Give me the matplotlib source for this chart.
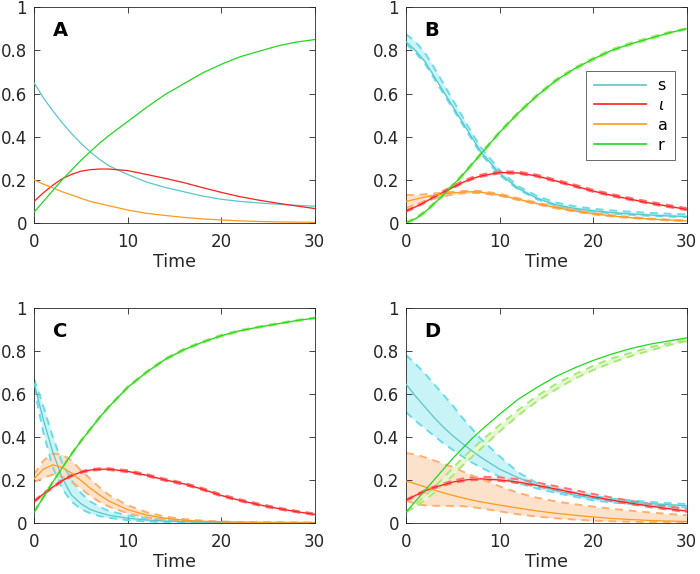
import matplotlib
matplotlib.use('Agg')
import matplotlib.pyplot as plt

# === DATA ===
t = [0, 1, 2, 3, 4, 5, 6, 7, 8, 10, 12, 14, 16, 18, 20, 22, 24, 26, 28, 30]

# Panel A (no bands)
s_A = [0.65, 0.58, 0.52, 0.465, 0.415, 0.37, 0.33, 0.295, 0.265, 0.225, 0.19, 0.165, 0.145, 0.125, 0.11, 0.1, 0.093, 0.087, 0.082, 0.078]
i_A = [0.1, 0.14, 0.175, 0.205, 0.225, 0.24, 0.247, 0.25, 0.25, 0.243, 0.225, 0.207, 0.187, 0.164, 0.142, 0.122, 0.106, 0.092, 0.079, 0.067]
a_A = [0.2, 0.18, 0.163, 0.145, 0.13, 0.115, 0.1, 0.09, 0.08, 0.06, 0.045, 0.035, 0.026, 0.019, 0.014, 0.01, 0.007, 0.005, 0.004, 0.003]
r_A = [0.05, 0.1, 0.15, 0.2, 0.245, 0.29, 0.33, 0.37, 0.405, 0.47, 0.535, 0.595, 0.645, 0.695, 0.735, 0.77, 0.795, 0.82, 0.838, 0.85]

# Panel B
s_B = [0.84, 0.8, 0.75, 0.68, 0.61, 0.54, 0.47, 0.4, 0.33, 0.23, 0.16, 0.115, 0.085, 0.068, 0.057, 0.048, 0.042, 0.037, 0.033, 0.03]
s_B_hi = [0.875, 0.84, 0.79, 0.72, 0.645, 0.57, 0.495, 0.42, 0.35, 0.245, 0.17, 0.125, 0.095, 0.078, 0.066, 0.058, 0.052, 0.047, 0.043, 0.04]
s_B_lo = [0.83, 0.79, 0.74, 0.67, 0.6, 0.53, 0.46, 0.39, 0.32, 0.222, 0.155, 0.11, 0.08, 0.063, 0.052, 0.044, 0.038, 0.033, 0.03, 0.027]
i_B = [0.055, 0.075, 0.097, 0.12, 0.143, 0.165, 0.187, 0.205, 0.218, 0.234, 0.232, 0.218, 0.195, 0.172, 0.148, 0.128, 0.11, 0.093, 0.078, 0.063]
i_B_hi = [0.058, 0.079, 0.102, 0.125, 0.149, 0.171, 0.193, 0.211, 0.224, 0.24, 0.238, 0.224, 0.201, 0.178, 0.154, 0.134, 0.116, 0.099, 0.084, 0.069]
i_B_lo = [0.052, 0.071, 0.093, 0.116, 0.139, 0.161, 0.183, 0.201, 0.214, 0.23, 0.228, 0.214, 0.191, 0.168, 0.144, 0.124, 0.106, 0.089, 0.074, 0.059]
a_B = [0.1, 0.11, 0.12, 0.128, 0.135, 0.14, 0.143, 0.145, 0.143, 0.13, 0.11, 0.09, 0.072, 0.056, 0.043, 0.033, 0.025, 0.019, 0.014, 0.01]
a_B_hi = [0.13, 0.13, 0.133, 0.137, 0.141, 0.145, 0.148, 0.15, 0.148, 0.135, 0.115, 0.094, 0.076, 0.06, 0.047, 0.036, 0.028, 0.021, 0.016, 0.012]
a_B_lo = [0.07, 0.085, 0.1, 0.113, 0.124, 0.132, 0.137, 0.14, 0.138, 0.126, 0.106, 0.086, 0.068, 0.053, 0.04, 0.03, 0.023, 0.017, 0.012, 0.008]
r_B = [0.0, 0.02, 0.05, 0.09, 0.13, 0.175, 0.22, 0.27, 0.32, 0.42, 0.51, 0.59, 0.66, 0.715, 0.76, 0.8, 0.83, 0.855, 0.88, 0.9]
r_B_hi = [0.004, 0.025, 0.055, 0.095, 0.135, 0.18, 0.225, 0.275, 0.325, 0.425, 0.515, 0.595, 0.665, 0.72, 0.765, 0.805, 0.835, 0.86, 0.884, 0.903]
r_B_lo = [0.0, 0.015, 0.045, 0.085, 0.125, 0.17, 0.215, 0.265, 0.315, 0.415, 0.505, 0.585, 0.655, 0.71, 0.755, 0.795, 0.825, 0.85, 0.876, 0.897]

# Panel C
s_C = [0.65, 0.48, 0.33, 0.21, 0.13, 0.09, 0.063, 0.048, 0.036, 0.022, 0.014, 0.009, 0.006, 0.004, 0.003, 0.002, 0.002, 0.002, 0.002, 0.002]
s_C_hi = [0.67, 0.54, 0.4, 0.28, 0.2, 0.14, 0.1, 0.075, 0.056, 0.035, 0.022, 0.014, 0.01, 0.007, 0.005, 0.004, 0.003, 0.003, 0.002, 0.002]
s_C_lo = [0.63, 0.42, 0.26, 0.16, 0.1, 0.065, 0.045, 0.032, 0.024, 0.013, 0.007, 0.004, 0.003, 0.002, 0.001, 0.001, 0.001, 0.001, 0.001, 0.001]
i_C = [0.1, 0.135, 0.167, 0.196, 0.22, 0.236, 0.246, 0.25, 0.25, 0.24, 0.222, 0.2, 0.182, 0.157, 0.128, 0.105, 0.085, 0.068, 0.053, 0.04]
i_C_hi = [0.103, 0.139, 0.171, 0.2, 0.224, 0.24, 0.25, 0.254, 0.254, 0.245, 0.227, 0.205, 0.187, 0.162, 0.133, 0.11, 0.09, 0.072, 0.057, 0.044]
i_C_lo = [0.097, 0.131, 0.163, 0.192, 0.216, 0.232, 0.242, 0.246, 0.246, 0.236, 0.218, 0.196, 0.178, 0.153, 0.124, 0.101, 0.081, 0.064, 0.05, 0.037]
a_C = [0.205, 0.25, 0.27, 0.258, 0.232, 0.198, 0.162, 0.13, 0.102, 0.062, 0.037, 0.022, 0.013, 0.008, 0.005, 0.003, 0.002, 0.001, 0.001, 0.001]
a_C_hi = [0.225, 0.29, 0.322, 0.318, 0.29, 0.245, 0.205, 0.165, 0.13, 0.082, 0.05, 0.03, 0.018, 0.011, 0.007, 0.004, 0.003, 0.002, 0.001, 0.001]
a_C_lo = [0.19, 0.21, 0.225, 0.215, 0.19, 0.16, 0.125, 0.098, 0.076, 0.045, 0.026, 0.015, 0.009, 0.005, 0.003, 0.002, 0.001, 0.001, 0.0, 0.0]
r_C = [0.05, 0.12, 0.19, 0.255, 0.32, 0.38, 0.435, 0.49, 0.54, 0.63, 0.7, 0.76, 0.805, 0.84, 0.87, 0.893, 0.91, 0.925, 0.94, 0.952]
r_C_hi = [0.053, 0.124, 0.194, 0.259, 0.324, 0.384, 0.439, 0.494, 0.544, 0.634, 0.704, 0.764, 0.809, 0.844, 0.874, 0.896, 0.913, 0.928, 0.943, 0.955]
r_C_lo = [0.047, 0.116, 0.186, 0.251, 0.316, 0.376, 0.431, 0.486, 0.536, 0.626, 0.696, 0.756, 0.801, 0.836, 0.866, 0.89, 0.907, 0.922, 0.937, 0.949]

# Panel D
s_D = [0.645, 0.59, 0.54, 0.49, 0.445, 0.405, 0.37, 0.337, 0.305, 0.25, 0.21, 0.175, 0.15, 0.13, 0.115, 0.105, 0.097, 0.09, 0.085, 0.08]
s_D_hi = [0.78, 0.74, 0.695, 0.645, 0.595, 0.545, 0.49, 0.44, 0.39, 0.31, 0.235, 0.185, 0.16, 0.14, 0.125, 0.113, 0.105, 0.098, 0.092, 0.088]
s_D_lo = [0.515, 0.475, 0.44, 0.405, 0.37, 0.34, 0.31, 0.282, 0.258, 0.215, 0.185, 0.16, 0.14, 0.122, 0.105, 0.095, 0.088, 0.082, 0.077, 0.072]
i_D = [0.105, 0.128, 0.148, 0.165, 0.178, 0.19, 0.198, 0.203, 0.205, 0.2, 0.19, 0.175, 0.158, 0.14, 0.122, 0.106, 0.092, 0.079, 0.067, 0.055]
i_D_hi = [0.108, 0.131, 0.152, 0.17, 0.184, 0.197, 0.206, 0.212, 0.215, 0.212, 0.203, 0.188, 0.171, 0.153, 0.135, 0.118, 0.103, 0.089, 0.077, 0.065]
i_D_lo = [0.102, 0.124, 0.144, 0.16, 0.173, 0.185, 0.193, 0.198, 0.2, 0.195, 0.185, 0.17, 0.153, 0.135, 0.117, 0.101, 0.087, 0.074, 0.062, 0.05]
a_D = [0.195, 0.182, 0.168, 0.153, 0.14, 0.128, 0.117, 0.107, 0.098, 0.083, 0.069, 0.056, 0.045, 0.036, 0.028, 0.021, 0.016, 0.012, 0.009, 0.007]
a_D_hi = [0.325, 0.318, 0.305, 0.29, 0.275, 0.26, 0.24, 0.222, 0.205, 0.17, 0.14, 0.117, 0.1, 0.087, 0.076, 0.066, 0.057, 0.049, 0.042, 0.036]
a_D_lo = [0.105, 0.088, 0.082, 0.08, 0.08, 0.079, 0.078, 0.074, 0.068, 0.054, 0.04, 0.03, 0.022, 0.016, 0.011, 0.008, 0.006, 0.004, 0.003, 0.002]
r_D = [0.05, 0.1, 0.15, 0.2, 0.25, 0.3, 0.345, 0.39, 0.43, 0.505, 0.575, 0.63, 0.68, 0.72, 0.755, 0.785, 0.81, 0.83, 0.845, 0.86]
r_D_hi = [0.05, 0.085, 0.125, 0.165, 0.21, 0.255, 0.3, 0.34, 0.38, 0.455, 0.525, 0.59, 0.645, 0.69, 0.73, 0.765, 0.79, 0.815, 0.835, 0.853]
r_D_lo = [0.05, 0.075, 0.105, 0.14, 0.18, 0.22, 0.265, 0.305, 0.345, 0.425, 0.5, 0.565, 0.62, 0.67, 0.71, 0.745, 0.775, 0.8, 0.825, 0.845]

labels = ['s', r'$\iota$', 'a', 'r']
panel_letters = ['A', 'B', 'C', 'D']

# === STYLE ===
LINE_COLORS = ['#5cc6c6', '#ff1f1f', '#ff9a1a', '#1fd81f']
DASH_COLORS = ['#66dde8', '#ff7070', '#ffb070', '#a8e878']
FILL_COLORS = ['#c8f3f7', '#ffd6d6', '#fde2cb', '#e4f9cf']
TEXT_COLOR = '#262626'

panels = [
    ([s_A, i_A, a_A, r_A], None),
    ([s_B, i_B, a_B, r_B], [(s_B_lo, s_B_hi), (i_B_lo, i_B_hi), (a_B_lo, a_B_hi), (r_B_lo, r_B_hi)]),
    ([s_C, i_C, a_C, r_C], [(s_C_lo, s_C_hi), (i_C_lo, i_C_hi), (a_C_lo, a_C_hi), (r_C_lo, r_C_hi)]),
    ([s_D, i_D, a_D, r_D], [(s_D_lo, s_D_hi), (i_D_lo, i_D_hi), (a_D_lo, a_D_hi), (r_D_lo, r_D_hi)]),
]

# axes boxes in figure fractions [left, bottom, width, height]
boxes = [
    [0.0486, 0.6115, 0.401, 0.376],
    [0.580, 0.6115, 0.401, 0.376],
    [0.0486, 0.0889, 0.401, 0.375],
    [0.580, 0.0889, 0.401, 0.375],
]

fig = plt.figure(figsize=(7.0, 5.74), dpi=100)

for k, (means, bands) in enumerate(panels):
    ax = fig.add_axes(boxes[k])

    if bands is not None:
        for j, (lo, hi) in enumerate(bands):
            ax.fill_between(t, lo, hi, color=FILL_COLORS[j], lw=0, zorder=1)
        for j, (lo, hi) in enumerate(bands):
            for b in (lo, hi):
                ax.plot(t, b, color=DASH_COLORS[j], lw=1.4, dashes=(4, 3), zorder=2)

    for j, m in enumerate(means):
        ax.plot(t, m, color=LINE_COLORS[j], lw=0.9, zorder=3, label=labels[j])

    ax.set_xlim(0, 30)
    ax.set_ylim(0, 1)
    ax.set_xticks([0, 10, 20, 30])
    ax.set_yticks([0, 0.2, 0.4, 0.6, 0.8, 1])
    ax.set_yticklabels(['0', '0.2', '0.4', '0.6', '0.8', '1'])
    ax.tick_params(direction='in', length=4, width=0.6, colors=TEXT_COLOR,
                   labelsize=12, top=True, right=True)
    ax.tick_params(axis='x', pad=7)
    ax.tick_params(axis='y', pad=5)
    for sp in ax.spines.values():
        sp.set_color(TEXT_COLOR)
        sp.set_linewidth(0.6)

    ax.set_xlabel('Time', fontsize=12.5, color=TEXT_COLOR, labelpad=2)
    ax.text(2.0, 0.89, panel_letters[k], fontsize=14, fontweight='bold',
            ha='left', va='center', color='black')

    if k == 1:
        leg = ax.legend(loc='upper right', bbox_to_anchor=(0.957, 0.704),
                        borderaxespad=0, fontsize=11.5, frameon=True, fancybox=False,
                        handlelength=3.3, labelspacing=0.3, borderpad=0.45,
                        handletextpad=0.7)
        leg.get_frame().set_edgecolor(TEXT_COLOR)
        leg.get_frame().set_linewidth(0.6)
        for line in leg.get_lines():
            line.set_linewidth(1.2)

fig.savefig('out.png', dpi=100)
